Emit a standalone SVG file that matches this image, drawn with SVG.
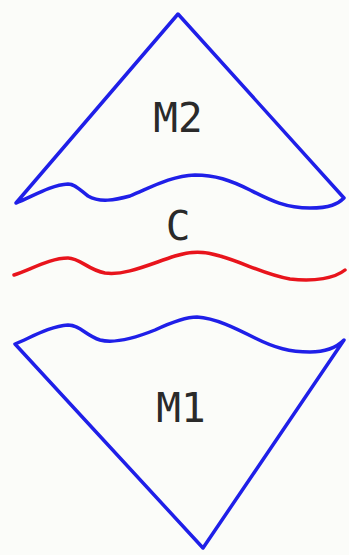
<svg xmlns="http://www.w3.org/2000/svg" width="349" height="555" viewBox="0 0 349 555">
<style>
.b{fill:none;stroke:#1f1fe8;stroke-width:3.5;stroke-linejoin:round;stroke-linecap:round}
.r{fill:none;stroke:#e8141c;stroke-width:3.5;stroke-linecap:round}
.t{font-family:"DejaVu Sans Mono",monospace;font-size:41px;fill:#2a2a2a;text-anchor:middle}
</style>
<rect width="349" height="555" fill="#fbfcf9"/>
<g id="M2">
<path class="b" d="M16,203 L178,14 L344,198 C338,204 330,208 310,208 C285,208 270,200 250,190 C230,180 215,175 195,175 C170,176 150,188 130,196 C115,200 100,203 88,196 C80,190 75,184 68,184 C50,185 30,198 16,203 Z"/>
<text class="t" x="178" y="132">M2</text>
</g>
<g id="C">
<path class="r" d="M14,275 C30,270 50,258 68,258 C80,258 88,270 105,273 C125,276 150,264 175,256 C190,251 205,251 220,256 C245,263 265,275 290,279 C315,282 335,278 345,270"/>
<text class="t" x="178" y="240">C</text>
</g>
<g id="M1">
<path class="b" d="M15,344 C30,338 50,326 68,325 C80,325 85,335 100,340 C115,344 135,338 155,330 C170,323 185,317 197,317 C215,318 235,328 255,338 C275,348 290,352 310,352 C328,352 338,346 344,340 L203,548 Z"/>
<text class="t" x="181" y="422">M1</text>
</g>
<g id="connectors"></g>
</svg>
